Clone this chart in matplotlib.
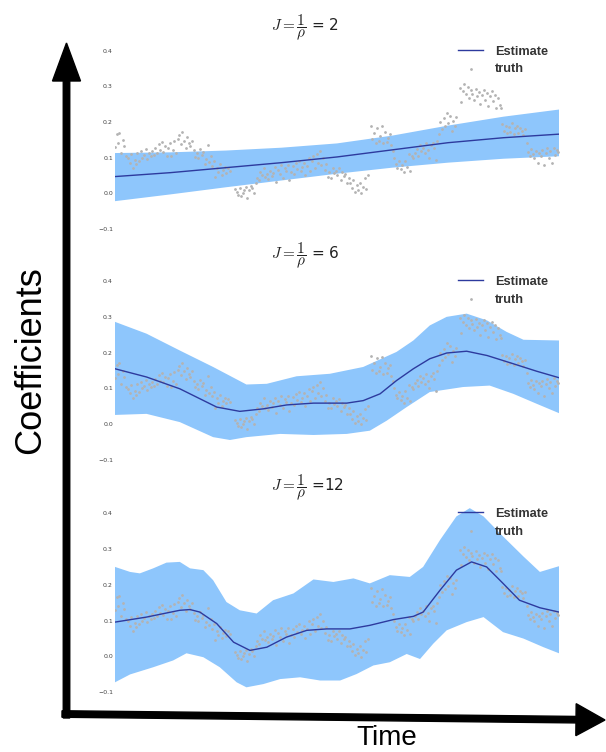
import matplotlib
matplotlib.use("Agg")
import matplotlib.pyplot as plt
from matplotlib.patches import FancyArrow

plt.rcParams['mathtext.fontset'] = 'cm'
plt.rcParams['font.family'] = ['DejaVu Sans']

# J values for the three panels
J_VALUES = [2, 6, 12]
TITLE_SEP = [" = ", " = ", " ="]

# --- estimate curves and bands (time in [0, 1]) ---
est1_time = [0.0, 0.125, 0.25, 0.375, 0.5, 0.625, 0.75, 0.875, 1.0]
est1_value = [0.047, 0.058, 0.072, 0.086, 0.102, 0.122, 0.142, 0.156, 0.166]
est1_upper = [0.113, 0.115, 0.120, 0.128, 0.140, 0.162, 0.190, 0.215, 0.235]
est1_lower = [-0.022, -0.003, 0.017, 0.036, 0.055, 0.072, 0.086, 0.097, 0.104]

est2_time = [0.0, 0.071, 0.146, 0.229, 0.281, 0.334, 0.387, 0.447, 0.522, 0.559,
             0.597, 0.634, 0.672, 0.709, 0.747, 0.792, 0.838, 0.897, 0.950, 1.0]
est2_value = [0.155, 0.132, 0.099, 0.048, 0.036, 0.043, 0.054, 0.059, 0.059, 0.066,
              0.085, 0.122, 0.155, 0.183, 0.199, 0.204, 0.192, 0.169, 0.148, 0.130]
band2_up_time = [0.0, 0.071, 0.146, 0.221, 0.296, 0.342, 0.409, 0.484, 0.559, 0.634,
                 0.672, 0.709, 0.747, 0.792, 0.838, 0.882, 0.920, 1.0]
band2_up = [0.286, 0.253, 0.206, 0.160, 0.111, 0.113, 0.134, 0.141, 0.160, 0.202,
            0.234, 0.276, 0.300, 0.309, 0.290, 0.258, 0.236, 0.234]
band2_lo_time = [0.0, 0.071, 0.146, 0.221, 0.259, 0.296, 0.372, 0.447, 0.522, 0.574,
                 0.612, 0.657, 0.709, 0.784, 0.844, 0.897, 0.950, 1.0]
band2_lo = [0.026, 0.029, 0.006, -0.036, -0.044, -0.036, -0.027, -0.030, -0.027, -0.018,
            0.010, 0.048, 0.090, 0.104, 0.108, 0.085, 0.057, 0.031]

est3_time = [0.0, 0.071, 0.146, 0.169, 0.191, 0.229, 0.267, 0.304, 0.342, 0.386,
             0.432, 0.477, 0.529, 0.574, 0.627, 0.672, 0.694, 0.732, 0.769, 0.803,
             0.837, 0.874, 0.911, 0.957, 1.0]
est3_value = [0.096, 0.110, 0.129, 0.131, 0.124, 0.092, 0.040, 0.017, 0.026, 0.054,
              0.073, 0.077, 0.077, 0.087, 0.103, 0.112, 0.124, 0.185, 0.241, 0.264,
              0.250, 0.204, 0.157, 0.136, 0.124]
band3_up_time = [0.0, 0.034, 0.056, 0.086, 0.116, 0.146, 0.169, 0.199, 0.221, 0.251,
                 0.281, 0.319, 0.356, 0.402, 0.447, 0.492, 0.537, 0.574, 0.619, 0.664,
                 0.694, 0.732, 0.769, 0.799, 0.830, 0.874, 0.920, 0.957, 1.0]
band3_up = [0.250, 0.236, 0.232, 0.246, 0.262, 0.264, 0.246, 0.241, 0.213, 0.152,
            0.129, 0.120, 0.157, 0.176, 0.215, 0.208, 0.218, 0.204, 0.227, 0.222,
            0.250, 0.325, 0.391, 0.414, 0.391, 0.335, 0.279, 0.236, 0.252]
band3_lo_time = [0.0, 0.034, 0.086, 0.131, 0.161, 0.199, 0.236, 0.274, 0.296, 0.334,
                 0.372, 0.417, 0.462, 0.507, 0.544, 0.582, 0.619, 0.657, 0.687, 0.717,
                 0.747, 0.792, 0.830, 0.874, 0.920, 0.965, 1.0]
band3_lo = [-0.072, -0.050, -0.030, -0.011, 0.009, -0.002, -0.030, -0.072, -0.086, -0.077,
            -0.063, -0.058, -0.067, -0.067, -0.049, -0.025, -0.016, 0.007, -0.007, 0.036,
            0.073, 0.096, 0.110, 0.068, 0.050, 0.026, 0.009]

# --- truth samples (same in every panel) ---
truth_time = [
    0.000, 0.004, 0.007, 0.010, 0.014, 0.018, 0.021, 0.025,
    0.029, 0.033, 0.036, 0.040, 0.044, 0.047, 0.050,
    0.054, 0.058, 0.061, 0.065, 0.069, 0.072, 0.076, 0.080, 0.083, 0.087, 0.091, 0.094,
    0.098, 0.101, 0.105, 0.108, 0.112, 0.116, 0.119, 0.123, 0.127, 0.130, 0.134, 0.138,
    0.141, 0.145, 0.148, 0.152, 0.155, 0.159, 0.162, 0.166, 0.169, 0.173,
    0.177, 0.180, 0.184, 0.187, 0.191, 0.195, 0.198, 0.202, 0.205, 0.209, 0.212, 0.216, 0.219,
    0.223, 0.226, 0.230, 0.233, 0.237, 0.240, 0.244, 0.247, 0.251, 0.255, 0.258,
    0.270, 0.274, 0.277, 0.281, 0.284, 0.288, 0.291, 0.295, 0.298, 0.302, 0.306, 0.309, 0.313, 0.317,
    0.320, 0.324, 0.327, 0.331, 0.335, 0.338, 0.342, 0.345, 0.349, 0.353, 0.356, 0.360, 0.363,
    0.367, 0.371, 0.374, 0.378, 0.382, 0.385, 0.389,
    0.392, 0.396, 0.400, 0.403, 0.407, 0.410, 0.414, 0.418, 0.421, 0.425, 0.428, 0.432, 0.436,
    0.439, 0.443,
    0.446, 0.450, 0.454, 0.457, 0.461, 0.464, 0.468, 0.472,
    0.475, 0.479, 0.482, 0.486, 0.490, 0.493, 0.497, 0.500, 0.504, 0.508, 0.511, 0.515, 0.518, 0.522,
    0.526, 0.529, 0.533, 0.536, 0.540, 0.544, 0.547, 0.551, 0.554, 0.558, 0.562, 0.565, 0.569,
    0.576, 0.579, 0.583, 0.587, 0.590, 0.594, 0.597, 0.601, 0.604, 0.608, 0.612, 0.615, 0.619, 0.622,
    0.626, 0.629, 0.633, 0.636, 0.640, 0.644, 0.647, 0.651, 0.654, 0.658, 0.662, 0.665, 0.669,
    0.672, 0.676, 0.680, 0.683, 0.687, 0.690, 0.694, 0.698, 0.701, 0.705, 0.708, 0.712, 0.716,
    0.719, 0.723,
    0.726, 0.730, 0.733, 0.737, 0.740, 0.744, 0.748, 0.751, 0.755, 0.758, 0.762, 0.766, 0.769,
    0.776, 0.779, 0.783, 0.786, 0.790, 0.794, 0.797, 0.801, 0.805, 0.808, 0.812, 0.815, 0.819,
    0.823, 0.826, 0.830, 0.833, 0.837, 0.841, 0.844, 0.848, 0.851, 0.855, 0.859, 0.862, 0.866, 0.869,
    0.872, 0.876, 0.880, 0.883, 0.887, 0.890, 0.894, 0.898, 0.901, 0.905, 0.908, 0.912, 0.916,
    0.919, 0.923,
    0.927, 0.930, 0.934, 0.937, 0.941, 0.944, 0.948, 0.952, 0.955, 0.959, 0.962, 0.966, 0.970,
    0.973, 0.977, 0.980, 0.984, 0.988, 0.991, 0.995, 0.998,
]
truth_value = [
    0.130, 0.166, 0.140, 0.170, 0.112, 0.150, 0.132, 0.104,
    0.098, 0.086, 0.110, 0.072, 0.094, 0.081, 0.112,
    0.090, 0.118, 0.100, 0.108, 0.124, 0.095, 0.112, 0.104, 0.118, 0.108, 0.126, 0.112,
    0.138, 0.122, 0.144, 0.117, 0.133, 0.106, 0.128, 0.140, 0.104, 0.122, 0.146, 0.113,
    0.152, 0.164, 0.138, 0.172, 0.148, 0.126, 0.158, 0.140, 0.132, 0.148,
    0.122, 0.103, 0.112, 0.098, 0.124, 0.108, 0.116, 0.082, 0.096, 0.136, 0.088, 0.104, 0.078,
    0.090, 0.046, 0.072, 0.060, 0.082, 0.052, 0.066, 0.074, 0.058, 0.070, 0.062,
    0.012, 0.004, -0.004, 0.016, -0.008, 0.002, 0.010, 0.018, -0.012, 0.008, 0.020, 0.016, 0.002, 0.028,
    0.044, 0.036, 0.060, 0.050, 0.072, 0.046, 0.054, 0.040, 0.064, 0.048, 0.058, 0.074, 0.032,
    0.066, 0.054, 0.080, 0.044, 0.070, 0.062, 0.080,
    0.038, 0.060, 0.076, 0.054, 0.084, 0.068, 0.090, 0.062, 0.074, 0.086, 0.052, 0.078, 0.098,
    0.064, 0.092,
    0.104, 0.072, 0.110, 0.086, 0.118, 0.080, 0.100, 0.066,
    0.082, 0.046, 0.060, 0.044, 0.072, 0.056, 0.064, 0.050, 0.070, 0.038, 0.060, 0.048, 0.054, 0.030,
    0.044, 0.028, 0.014, 0.036, 0.004, 0.022, 0.010, 0.030, 0.000, 0.018, 0.042, 0.012, 0.050,
    0.190, 0.152, 0.170, 0.142, 0.184, 0.148, 0.160, 0.188, 0.140, 0.172, 0.144, 0.156, 0.166, 0.136,
    0.120, 0.100, 0.082, 0.072, 0.090, 0.068, 0.080, 0.060, 0.092, 0.074, 0.110, 0.064, 0.104,
    0.098, 0.114, 0.124, 0.106, 0.136, 0.118, 0.128, 0.112, 0.140, 0.122, 0.100, 0.136, 0.142,
    0.126, 0.094,
    0.148, 0.166, 0.200, 0.180, 0.210, 0.188, 0.226, 0.196, 0.218, 0.174, 0.204, 0.190, 0.214,
    0.296, 0.256, 0.286, 0.306, 0.278, 0.298, 0.268, 0.290, 0.280, 0.262, 0.294, 0.272, 0.284,
    0.250, 0.276, 0.290, 0.262, 0.282, 0.244, 0.272, 0.286, 0.258, 0.276, 0.238, 0.268, 0.248, 0.240,
    0.194, 0.176, 0.190, 0.168, 0.186, 0.172, 0.196, 0.166, 0.182, 0.190, 0.170, 0.184, 0.176,
    0.164, 0.180,
    0.142, 0.116, 0.104, 0.124, 0.110, 0.098, 0.120, 0.086, 0.114, 0.106, 0.122, 0.080, 0.112,
    0.126, 0.100, 0.118, 0.086, 0.128, 0.108, 0.122, 0.116,
]

Y_TICKS = [-0.1, 0.0, 0.1, 0.2, 0.3, 0.4]
Y_TICK_LABELS = ["\u22120.1", "0.0", "0.1", "0.2", "0.3", "0.4"]

BAND_COLOR = "#8ec6fc"
LINE_COLOR = "#2d3a9e"
TRUTH_COLOR = "#b3b3b3"

W, H = 606, 752
fig = plt.figure(figsize=(W / 100, H / 100), dpi=100)

# axes placement in pixels: (top, bottom) of each panel
panel_px = [(43.6, 236.1), (273.9, 467.2), (506.0, 699.5)]
title_y_px = [27.5, 256.0, 488.0]
left_px, right_px = 115, 559

panels = [
    (est1_time, est1_value, est1_time, est1_upper, est1_time, est1_lower),
    (est2_time, est2_value, band2_up_time, band2_up, band2_lo_time, band2_lo),
    (est3_time, est3_value, band3_up_time, band3_up, band3_lo_time, band3_lo),
]

for i, (et, ev, ut, uv, lt, lv) in enumerate(panels):
    top, bot = panel_px[i]
    ax = fig.add_axes([left_px / W, 1 - bot / H, (right_px - left_px) / W, (bot - top) / H])
    # band as polygon: upper edge forward, lower edge backward
    poly_t = ut + lt[::-1]
    poly_v = uv + lv[::-1]
    ax.fill(poly_t, poly_v, color=BAND_COLOR, lw=0, zorder=1)
    ax.scatter(truth_time, truth_value, s=4, color=TRUTH_COLOR, lw=0, zorder=2, label="truth")
    ax.plot(et, ev, color=LINE_COLOR, lw=1, zorder=3, label="Estimate")

    ax.set_xlim(0, 1)
    ax.set_ylim(-0.12, 0.42)
    ax.set_xticks([])
    ax.set_yticks(Y_TICKS)
    ax.set_yticklabels(Y_TICK_LABELS, fontsize=4.5, color="#444444")
    ax.tick_params(axis="y", length=0, pad=1.5)
    for s in ax.spines.values():
        s.set_visible(False)

    handles, labels = ax.get_legend_handles_labels()
    leg = ax.legend(handles[::-1], labels[::-1], loc="upper left",
                    bbox_to_anchor=((454 - left_px) / (right_px - left_px), 1.01),
                    frameon=False, borderpad=0, borderaxespad=0.3,
                    handlelength=2.0, handletextpad=0.9, labelspacing=0.45,
                    prop={"family": "Liberation Sans", "weight": "bold", "size": 9.2})
    for t in leg.get_texts():
        t.set_color("#333333")

    fig.text(271 / W, 1 - title_y_px[i] / H,
             r"$J = \dfrac{1}{\rho}$" + TITLE_SEP[i] + str(J_VALUES[i]),
             ha="left", va="center", fontsize=11, color="#222222")

# hand-drawn style axis arrows
inch = fig.dpi_scale_trans
fig.add_artist(FancyArrow(0.665, (H - 718) / 100, 0.0, (718 - 43) / 100,
                          width=0.065, head_width=0.28, head_length=0.38,
                          length_includes_head=True, color="black", transform=inch))
fig.add_artist(FancyArrow(0.62, (H - 714) / 100, (605 - 62) / 100, -0.06,
                          width=0.065, head_width=0.32, head_length=0.29,
                          length_includes_head=True, color="black", transform=inch))

fig.text(31 / W, 1 - 360 / H, "Coefficients", rotation=90, ha="center", va="center",
         fontsize=26, family="Liberation Sans")
fig.text(387 / W, 1 - 745 / H, "Time", ha="center", va="baseline",
         fontsize=20, family="Liberation Sans")

fig.savefig("out.png", dpi=100)
